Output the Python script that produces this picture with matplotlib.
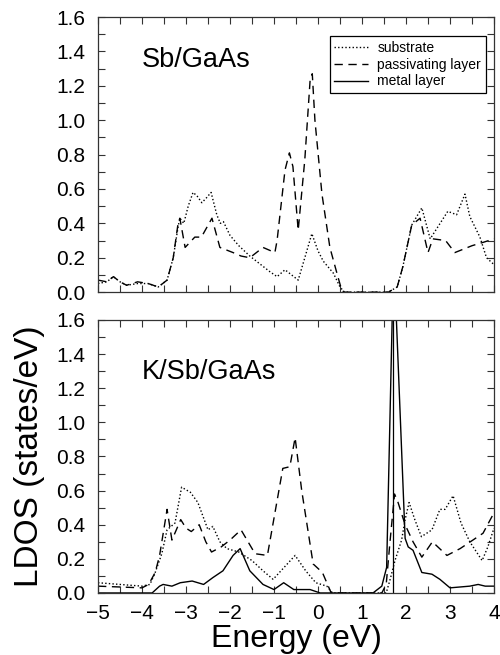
import matplotlib
matplotlib.use("Agg")
import matplotlib.pyplot as plt
from matplotlib.lines import Line2D
from matplotlib.ticker import MultipleLocator

plt.rcParams['font.family'] = ['Liberation Sans', 'DejaVu Sans']

# ---- top panel: Sb/GaAs ----
top_sub_e = [-5.0, -4.8, -4.65, -4.5, -4.35, -4.1, -3.86, -3.63, -3.43, -3.29, -3.18, -3.14,
             -3.05, -2.95, -2.84, -2.75, -2.64, -2.53, -2.43, -2.3, -2.22, -2.15, -2.0, -1.8,
             -1.55, -1.3, -1.1, -0.93, -0.75, -0.6, -0.45, -0.3, -0.14, 0.0, 0.12, 0.35, 0.5,
             0.6, 1.6, 1.8, 1.93, 2.13, 2.36, 2.55, 2.95, 3.15, 3.34, 3.45, 3.68, 3.83, 4.0]
top_sub_v = [0.05, 0.06, 0.09, 0.06, 0.04, 0.05, 0.05, 0.03, 0.07, 0.2, 0.38, 0.43,
             0.40, 0.50, 0.58, 0.56, 0.52, 0.55, 0.58, 0.45, 0.40, 0.41, 0.33, 0.27,
             0.21, 0.16, 0.12, 0.09, 0.13, 0.10, 0.07, 0.2, 0.34, 0.24, 0.18, 0.11, 0.03,
             0.0, 0.0, 0.03, 0.15, 0.39, 0.49, 0.31, 0.47, 0.45, 0.57, 0.44, 0.32, 0.20, 0.16]

top_pas_e = [-5.0, -4.8, -4.65, -4.5, -4.35, -4.1, -3.86, -3.63, -3.43, -3.29, -3.18, -3.14,
             -3.02, -2.8, -2.65, -2.41, -2.23, -1.93, -1.75, -1.55, -1.25, -0.98, -0.93,
             -0.75, -0.65, -0.57, -0.45, -0.3, -0.18, -0.13, -0.07, 0.09, 0.27, 0.43, 0.54,
             0.6, 1.6, 1.8, 1.93, 2.13, 2.32, 2.5, 2.61, 2.9, 3.11, 3.5, 3.76, 4.0]
top_pas_v = [0.07, 0.06, 0.09, 0.06, 0.04, 0.06, 0.05, 0.03, 0.07, 0.2, 0.40, 0.43,
             0.26, 0.32, 0.32, 0.43, 0.26, 0.23, 0.21, 0.20, 0.26, 0.23, 0.30,
             0.71, 0.81, 0.73, 0.36, 0.77, 1.23, 1.27, 1.0, 0.57, 0.26, 0.11, 0.01,
             0.0, 0.0, 0.03, 0.15, 0.39, 0.43, 0.23, 0.31, 0.30, 0.23, 0.27, 0.29, 0.31]

# ---- bottom panel: K/Sb/GaAs ----
bot_sub_e = [-5.0, -4.5, -4.0, -3.82, -3.7, -3.55, -3.43, -3.25, -3.1, -2.9, -2.73, -2.5,
             -2.39, -2.23, -2.07, -1.8, -1.5, -1.25, -1.02, -0.77, -0.52, -0.28, -0.05, 0.2,
             0.33, 1.55, 1.64, 1.75, 1.9, 1.98, 2.07, 2.2, 2.35, 2.59, 2.77, 2.89, 3.07,
             3.25, 3.45, 3.73, 3.86, 4.0]
bot_sub_v = [0.06, 0.05, 0.04, 0.05, 0.12, 0.23, 0.37, 0.41, 0.62, 0.59, 0.53, 0.37,
             0.39, 0.30, 0.26, 0.24, 0.19, 0.13, 0.08, 0.15, 0.22, 0.13, 0.06, 0.04,
             0.0, 0.0, 0.08, 0.19, 0.31, 0.43, 0.53, 0.43, 0.33, 0.37, 0.49, 0.49, 0.57,
             0.41, 0.30, 0.19, 0.27, 0.38]

bot_pas_e = [-5.0, -4.5, -4.0, -3.85, -3.7, -3.6, -3.43, -3.32, -3.12, -3.0, -2.88, -2.7,
             -2.55, -2.42, -2.2, -2.0, -1.75, -1.43, -1.15, -0.8, -0.64, -0.52, -0.37,
             -0.11, 0.1, 0.3, 1.45, 1.55, 1.64, 1.74, 1.82, 1.98, 2.16, 2.36, 2.6, 2.93,
             3.23, 3.52, 3.75, 4.0]
bot_pas_v = [0.04, 0.035, 0.03, 0.05, 0.12, 0.22, 0.49, 0.31, 0.43, 0.38, 0.36, 0.40,
             0.30, 0.24, 0.27, 0.31, 0.37, 0.23, 0.22, 0.73, 0.74, 0.91, 0.60,
             0.17, 0.12, 0.0, 0.0, 0.05, 0.31, 0.58, 0.53, 0.40, 0.30, 0.21, 0.30, 0.22,
             0.26, 0.31, 0.35, 0.47]

bot_met_e = [-5.0, -3.77, -3.6, -3.52, -3.32, -3.13, -2.86, -2.6, -2.39, -2.16, -1.93, -1.77,
             -1.55, -1.25, -1.0, -0.78, -0.55, -0.18, 0.05, 1.25, 1.45, 1.56, 1.72, 1.98,
             2.05, 2.16, 2.36, 2.59, 2.77, 3.0, 3.45, 3.64, 3.8, 4.0]
bot_met_v = [0.0, 0.0, 0.04, 0.05, 0.04, 0.06, 0.07, 0.05, 0.09, 0.13, 0.22, 0.26,
             0.13, 0.05, 0.02, 0.06, 0.02, 0.02, 0.0, 0.0, 0.04, 0.15, 2.0, 0.32,
             0.27, 0.25, 0.12, 0.11, 0.08, 0.03, 0.04, 0.05, 0.04, 0.04]

fermi_e = 1.7
x_ticks = [-5, -4, -3, -2, -1, 0, 1, 2, 3, 4]
y_ticks = [0.0, 0.2, 0.4, 0.6, 0.8, 1.0, 1.2, 1.4, 1.6]

dotted = (0, (1, 1.6))
dashed = (0, (6, 4))

fig = plt.figure(figsize=(5.0, 6.55), dpi=100)
ax1 = fig.add_axes([0.196, 0.554, 0.792, 0.420])
ax2 = fig.add_axes([0.196, 0.0947, 0.792, 0.4168])

ax1.plot(top_sub_e, top_sub_v, color='black', lw=1.0, ls=dotted)
ax1.plot(top_pas_e, top_pas_v, color='black', lw=1.0, ls=dashed)

ax2.plot(bot_sub_e, bot_sub_v, color='black', lw=1.0, ls=dotted)
ax2.plot(bot_pas_e, bot_pas_v, color='black', lw=1.0, ls=dashed)
ax2.plot(bot_met_e, bot_met_v, color='black', lw=1.0, ls='-')
ax2.axvline(fermi_e, color='black', lw=0.9)

for ax in (ax1, ax2):
    ax.set_xlim(-5, 4)
    ax.set_ylim(0, 1.6)
    ax.set_yticks(y_ticks)
    ax.set_yticklabels([f"{t:.1f}" for t in y_ticks])
    ax.set_xticks(x_ticks)
    ax.xaxis.set_minor_locator(MultipleLocator(0.5))
    ax.yaxis.set_minor_locator(MultipleLocator(0.1))
    ax.tick_params(which='both', direction='in', top=True, right=True,
                   length=5, width=0.8, color='#333333')
    ax.tick_params(axis='y', labelsize=15, pad=9)
    ax.tick_params(axis='x', labelsize=15, pad=8)
    for s in ax.spines.values():
        s.set_linewidth(0.9)
        s.set_color('#333333')

ax1.tick_params(axis='x', labelbottom=False)

ax1.text(0.111, 0.844, "Sb/GaAs", transform=ax1.transAxes, fontsize=19.5,
         ha='left', va='center')
ax2.text(0.111, 0.81, "K/Sb/GaAs", transform=ax2.transAxes, fontsize=19.5,
         ha='left', va='center')

handles = [Line2D([], [], color='black', lw=1.0, ls=dotted),
           Line2D([], [], color='black', lw=1.0, ls=dashed),
           Line2D([], [], color='black', lw=1.0, ls='-')]
leg = ax1.legend(handles, ["substrate", "passivating layer", "metal layer"],
                 loc='upper right', bbox_to_anchor=(0.98, 0.931), borderaxespad=0,
                 fontsize=10, handlelength=2.4, handletextpad=0.7, borderpad=0.35,
                 labelspacing=0.2, fancybox=False, framealpha=1, edgecolor='black')
leg.get_frame().set_linewidth(0.9)

ax2.set_ylabel("LDOS (states/eV)", fontsize=24)
ax2.yaxis.set_label_coords(-0.135, 0.5)
ax2.set_xlabel("Energy (eV)", fontsize=23)
ax2.xaxis.set_label_coords(0.5, -0.115)

fig.savefig("out.png", dpi=100)
